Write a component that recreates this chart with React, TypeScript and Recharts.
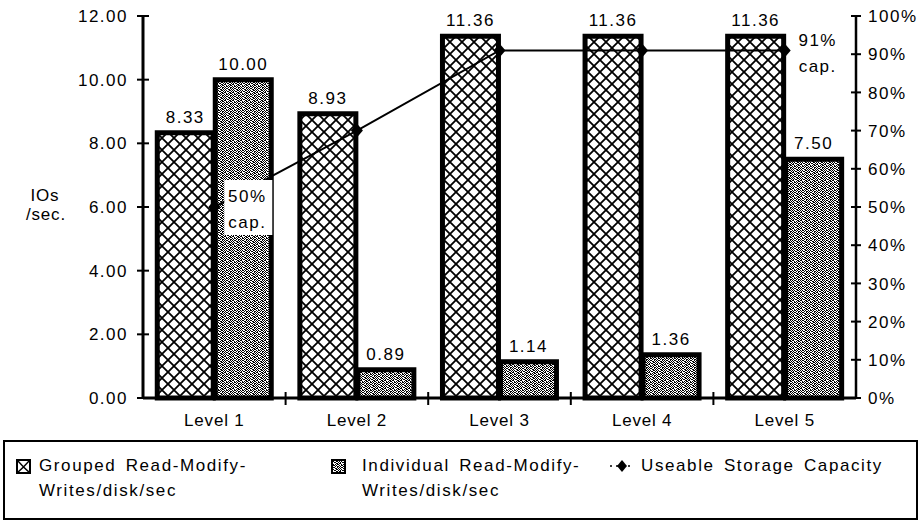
import React from 'react';
import { ComposedChart, Bar, Line, XAxis, YAxis, LabelList, Legend } from 'recharts';

const levels = ['Level 1', 'Level 2', 'Level 3', 'Level 4', 'Level 5'];
const groupedRMW = [8.33, 8.93, 11.36, 11.36, 11.36];
const individualRMW = [10.0, 0.89, 1.14, 1.36, 7.5];
const usableCapacity = [50, 70, 91, 91, 91];
const capacityNotes = ['50%', '', '', '', '91%'];
const leftTicks = [0, 2, 4, 6, 8, 10, 12];
const rightTicks = [0, 10, 20, 30, 40, 50, 60, 70, 80, 90, 100];
const seriesNames = [
  ['Grouped Read-Modify-', 'Writes/disk/sec'],
  ['Individual Read-Modify-', 'Writes/disk/sec'],
  ['Useable Storage Capacity'],
];

const data = levels.map((level, i) => ({
  level,
  grouped: groupedRMW[i],
  individual: individualRMW[i],
  capacity: usableCapacity[i],
  note: capacityNotes[i],
}));

const W = 924;
const H = 523;
const LEFT_W = 143;
const RIGHT_W = 68;
const X_H = 125;
const TOP = 16;
const FONT = '"Liberation Sans", Arial, Helvetica, sans-serif';
const txt = { fontFamily: FONT, fontSize: 17, letterSpacing: 1.5, fill: '#000' } as const;
const txtX = { fontFamily: FONT, fontSize: 17, letterSpacing: 0.8, fill: '#000' } as const;

const STIPPLE_ROWS = [
  '10110010',
  '01001101',
  '10100110',
  '01011001',
  '11000110',
  '00101011',
  '10110100',
  '01001011',
];

const Patterns = () => (
  <defs>
    <pattern id="crosshatch" width="12" height="12" patternUnits="userSpaceOnUse">
      <rect width="12" height="12" fill="#fff" />
      <path d="M0,0 L12,12 M12,0 L0,12" stroke="#000" strokeWidth="1.8" />
    </pattern>
    <pattern id="stipple" width="8" height="8" patternUnits="userSpaceOnUse">
      <rect width="8" height="8" fill="#fff" />
      {STIPPLE_ROWS.map((row, y) =>
        row.split('').map((c, x) =>
          c === '1' ? <rect key={`${x}-${y}`} x={x} y={y} width="1" height="1" fill="#000" /> : null
        )
      )}
    </pattern>
  </defs>
);

const LeftTick = (props: any) => {
  const { x, y, payload } = props;
  const ax = x + 15;
  return (
    <g>
      <line x1={ax - 6} x2={ax + 6} y1={y} y2={y} stroke="#000" strokeWidth={2} />
      <text x={x} y={y} dy="0.36em" textAnchor="end" style={txt}>
        {Number(payload.value).toFixed(2)}
      </text>
    </g>
  );
};

const RightTick = (props: any) => {
  const { x, y, payload } = props;
  const ax = x - 12;
  return (
    <g>
      <line x1={ax - 5} x2={ax + 5} y1={y} y2={y} stroke="#000" strokeWidth={2} />
      <text x={x} y={y} dy="0.36em" textAnchor="start" style={txt}>
        {payload.value}%
      </text>
    </g>
  );
};

const BottomTick = (props: any) => {
  const { x, y, payload, index } = props;
  const ay = y - 16;
  const band = (W - LEFT_W - RIGHT_W) / levels.length;
  return (
    <g>
      {index < levels.length - 1 && (
        <line x1={x + band / 2} x2={x + band / 2} y1={ay - 6} y2={ay + 7} stroke="#000" strokeWidth={2} />
      )}
      <text x={x} y={y} dy="0.71em" textAnchor="middle" style={txtX}>
        {payload.value}
      </text>
    </g>
  );
};

const Diamond = (props: any) => {
  const { cx, cy } = props;
  if (cx == null || cy == null) return null;
  return <path d={`M${cx},${cy - 7} L${cx + 6},${cy} L${cx},${cy + 7} L${cx - 6},${cy} Z`} fill="#000" />;
};

const CapNote = (props: any) => {
  const { x, y, value } = props;
  if (!value) return null;
  return (
    <g>
      <rect x={x + 10} y={y - 27} width={48} height={55} fill="#fff" />
      <text x={x + 33} y={y - 11} dy="0.36em" textAnchor="middle" style={txt}>{value}</text>
      <text x={x + 33} y={y + 15} dy="0.36em" textAnchor="middle" style={txt}>cap.</text>
    </g>
  );
};

const AxisTitle = () => (
  <g>
    <text x={45} y={195} dy="0.36em" textAnchor="middle" style={txtX}>IOs</text>
    <text x={46} y={214} dy="0.36em" textAnchor="middle" style={txtX}>/sec.</text>
  </g>
);

const legendText: React.CSSProperties = {
  position: 'absolute',
  fontFamily: FONT,
  fontSize: 17,
  letterSpacing: 1.6,
  wordSpacing: 3,
  lineHeight: '25px',
  color: '#000',
  whiteSpace: 'nowrap',
};

const LegendBox = () => (
  <div
    style={{
      position: 'relative',
      width: 915,
      height: 80,
      border: '2px solid #000',
      boxSizing: 'border-box',
      background: '#fff',
    }}
  >
    <svg style={{ position: 'absolute', left: 11, top: 17 }} width="15" height="15">
      <defs>
        <pattern id="crosshatchSmall" width="13" height="13" patternUnits="userSpaceOnUse" x="1" y="1">
          <path d="M0,0 L6.5,7 L13,0 M0,13 L6.5,7 L13,13" stroke="#000" strokeWidth="1.5" fill="none" />
        </pattern>
      </defs>
      <rect x="1" y="1" width="13" height="13" fill="url(#crosshatchSmall)" stroke="#000" strokeWidth="2" />
    </svg>
    <div style={{ ...legendText, left: 34, top: 11 }}>
      {seriesNames[0].map((s, i) => <div key={i}>{s}</div>)}
    </div>
    <svg style={{ position: 'absolute', left: 326, top: 17 }} width="15" height="15">
      <rect x="1" y="1" width="13" height="13" fill="url(#stipple)" stroke="#000" strokeWidth="2" />
    </svg>
    <div style={{ ...legendText, left: 357, top: 11 }}>
      {seriesNames[1].map((s, i) => <div key={i}>{s}</div>)}
    </div>
    <svg style={{ position: 'absolute', left: 603, top: 16 }} width="28" height="16">
      <line x1="2" x2="26" y1="8" y2="8" stroke="#000" strokeWidth="1.5" strokeDasharray="2 4" />
      <path d="M14,2 L19,8 L14,14 L9,8 Z" fill="#000" />
    </svg>
    <div style={{ ...legendText, left: 636, top: 11 }}>
      {seriesNames[2].map((s, i) => <div key={i}>{s}</div>)}
    </div>
  </div>
);

export default function App() {
  return (
    <div style={{ position: 'absolute', left: 0, top: 0, width: W, height: H, background: '#fff' }}>
      <ComposedChart
        width={W}
        height={H}
        data={data}
        margin={{ top: TOP, right: 0, bottom: 0, left: 0 }}
        barCategoryGap="10%"
        barGap={2}
      >
        <Patterns />
        <XAxis
          dataKey="level"
          height={X_H}
          tickSize={0}
          tickMargin={16}
          tick={<BottomTick />}
          tickLine={false}
          axisLine={{ stroke: '#000', strokeWidth: 3 }}
          interval={0}
        />
        <YAxis
          yAxisId="left"
          width={LEFT_W}
          domain={[0, 12]}
          ticks={leftTicks}
          tickSize={0}
          tickMargin={15}
          tick={<LeftTick />}
          tickLine={false}
          axisLine={{ stroke: '#000', strokeWidth: 3 }}
          label={{ content: AxisTitle }}
          interval={0}
        />
        <YAxis
          yAxisId="right"
          orientation="right"
          width={RIGHT_W}
          domain={[0, 100]}
          ticks={rightTicks}
          tickSize={0}
          tickMargin={12}
          tick={<RightTick />}
          tickLine={false}
          axisLine={{ stroke: '#000', strokeWidth: 2.5 }}
          interval={0}
        />
        <Bar
          yAxisId="left"
          dataKey="grouped"
          name={seriesNames[0].join(' ')}
          fill="url(#crosshatch)"
          stroke="#000"
          strokeWidth={5}
          isAnimationActive={false}
        >
          <LabelList
            dataKey="grouped"
            position="top"
            offset={10}
            formatter={(v: any) => Number(v).toFixed(2)}
            style={txt}
          />
        </Bar>
        <Bar
          yAxisId="left"
          dataKey="individual"
          name={seriesNames[1].join(' ')}
          fill="url(#stipple)"
          stroke="#000"
          strokeWidth={5}
          isAnimationActive={false}
        >
          <LabelList
            dataKey="individual"
            position="top"
            offset={10}
            formatter={(v: any) => Number(v).toFixed(2)}
            style={txt}
          />
        </Bar>
        <Line
          yAxisId="right"
          dataKey="capacity"
          name={seriesNames[2][0]}
          stroke="#000"
          strokeWidth={2}
          dot={<Diamond />}
          activeDot={false}
          isAnimationActive={false}
        >
          <LabelList dataKey="note" content={<CapNote />} />
        </Line>
        <Legend
          layout="vertical"
          align="center"
          verticalAlign="middle"
          wrapperStyle={{ left: 3, top: 440, width: 915, height: 80 }}
          content={() => <LegendBox />}
        />
      </ComposedChart>
    </div>
  );
}
